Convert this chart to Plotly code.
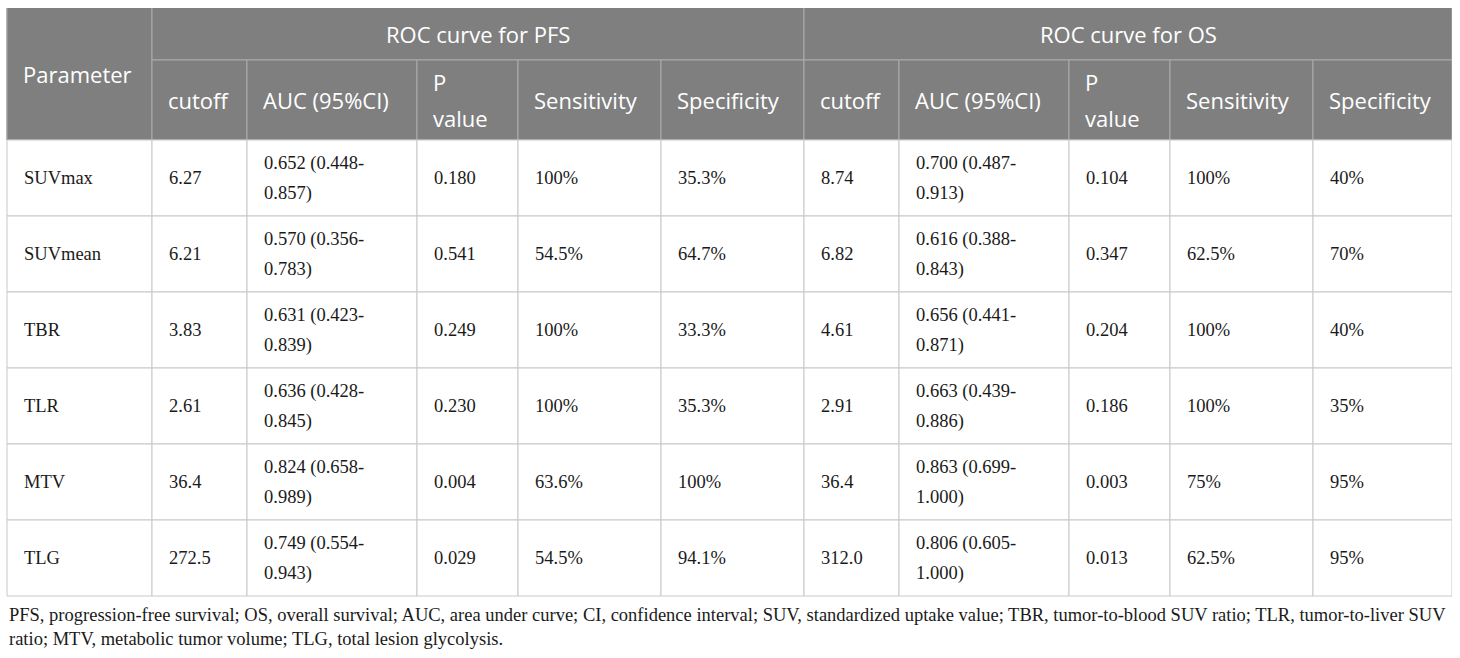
import plotly.graph_objects as go

# ---- data ----
parameters = ["SUVmax", "SUVmean", "TBR", "TLR", "MTV", "TLG"]

pfs_cutoff = ["6.27", "6.21", "3.83", "2.61", "36.4", "272.5"]
pfs_auc = ["0.652", "0.570", "0.631", "0.636", "0.824", "0.749"]
pfs_ci_lo = ["0.448", "0.356", "0.423", "0.428", "0.658", "0.554"]
pfs_ci_hi = ["0.857", "0.783", "0.839", "0.845", "0.989", "0.943"]
pfs_p = ["0.180", "0.541", "0.249", "0.230", "0.004", "0.029"]
pfs_sens = ["100%", "54.5%", "100%", "100%", "63.6%", "54.5%"]
pfs_spec = ["35.3%", "64.7%", "33.3%", "35.3%", "100%", "94.1%"]

os_cutoff = ["8.74", "6.82", "4.61", "2.91", "36.4", "312.0"]
os_auc = ["0.700", "0.616", "0.656", "0.663", "0.863", "0.806"]
os_ci_lo = ["0.487", "0.388", "0.441", "0.439", "0.699", "0.605"]
os_ci_hi = ["0.913", "0.843", "0.871", "0.886", "1.000", "1.000"]
os_p = ["0.104", "0.347", "0.204", "0.186", "0.003", "0.013"]
os_sens = ["100%", "62.5%", "100%", "100%", "75%", "62.5%"]
os_spec = ["40%", "70%", "40%", "35%", "95%", "95%"]

group_titles = ["ROC curve for PFS", "ROC curve for OS"]
sub_headers = [["cutoff"], ["AUC (95%CI)"], ["P", "value"], ["Sensitivity"], ["Specificity"]]
first_header = "Parameter"
footnote = ("PFS, progression-free survival; OS, overall survival; AUC, area under curve; CI, confidence interval; "
            "SUV, standardized uptake value; TBR, tumor-to-blood SUV ratio; TLR, tumor-to-liver SUV"
            "<br>ratio; MTV, metabolic tumor volume; TLG, total lesion glycolysis.")

# ---- layout geometry (page pixel coordinates) ----
PAGE_OFF = 8          # default body margin of the html page
W, H = 1460 - 2 * PAGE_OFF, 658 - PAGE_OFF
X0 = 0                # axis starts a little left of the page offset so x=7 is inside
col_edges = [7, 152, 247, 417, 518, 661, 804, 899, 1069, 1170, 1313, 1452]
hdr_edges = [7, 60, 140]
row_edges = [140, 216, 292, 368, 444, 520, 596]
pad_body = 15
pad_hdr = 14
body_line_gap = 30
hdr_line_gap = 36

HDR_BG = "#7f7f7f"
HDR_LINE = "#acacac"
BODY_LINE = "#c8c8c8"
HDR_FONT = dict(family="Open Sans", size=22, color="white")
BODY_FONT = dict(family="Liberation Serif", size=18.5, color="#1a1a1a")

shapes = []
annotations = []


def rect(x0, y0, x1, y1, fill, line):
    shapes.append(dict(type="rect", xref="x", yref="y", x0=x0, y0=y0, x1=x1, y1=y1,
                       fillcolor=fill, line=dict(color=line, width=1), layer="below"))


def text(x, y, s, font, xanchor="left"):
    annotations.append(dict(x=x, y=y, xref="x", yref="y", text=s, showarrow=False,
                            xanchor=xanchor, yanchor="middle",
                            align="left" if xanchor == "left" else "center", font=font))


def lines(x, yc, parts, font, gap):
    n = len(parts)
    for k, s in enumerate(parts):
        text(x, yc + (k - (n - 1) / 2) * gap, s, font)

# header background
rect(col_edges[0], hdr_edges[0], col_edges[-1], hdr_edges[-1], HDR_BG, HDR_BG)
rect(col_edges[0], hdr_edges[0], col_edges[1], hdr_edges[2], HDR_BG, HDR_LINE)
text(col_edges[0] + pad_hdr, (hdr_edges[0] + hdr_edges[2]) / 2, first_header, HDR_FONT)
for g, title in enumerate(group_titles):
    x0 = col_edges[1 + 5 * g]
    x1 = col_edges[6 + 5 * g]
    rect(x0, hdr_edges[0], x1, hdr_edges[1], HDR_BG, HDR_LINE)
    text((x0 + x1) / 2, (hdr_edges[0] + hdr_edges[1]) / 2, title, HDR_FONT, xanchor="center")
    for k, sh in enumerate(sub_headers):
        c0 = col_edges[1 + 5 * g + k]
        c1 = col_edges[2 + 5 * g + k]
        rect(c0, hdr_edges[1], c1, hdr_edges[2], HDR_BG, HDR_LINE)
        lines(c0 + pad_hdr, (hdr_edges[1] + hdr_edges[2]) / 2, sh, HDR_FONT, hdr_line_gap)

# body
for i, p in enumerate(parameters):
    cells = [[p],
             [pfs_cutoff[i]], [f"{pfs_auc[i]} ({pfs_ci_lo[i]}-", f"{pfs_ci_hi[i]})"], [pfs_p[i]],
             [pfs_sens[i]], [pfs_spec[i]],
             [os_cutoff[i]], [f"{os_auc[i]} ({os_ci_lo[i]}-", f"{os_ci_hi[i]})"], [os_p[i]],
             [os_sens[i]], [os_spec[i]]]
    y0, y1 = row_edges[i], row_edges[i + 1]
    for j, parts in enumerate(cells):
        x0, x1 = col_edges[j], col_edges[j + 1]
        rect(x0, y0, x1, y1, "white", BODY_LINE)
        lines(x0 + pad_body, (y0 + y1) / 2, parts, BODY_FONT, body_line_gap)

# footnote
annotations.append(dict(x=col_edges[0], y=627, xref="x", yref="y", text=footnote, showarrow=False,
                        xanchor="left", yanchor="middle", align="left",
                        font=dict(family="Liberation Serif", size=18.5, color="#1a1a1a")))

fig = go.Figure()
fig.update_layout(
    width=W + PAGE_OFF, height=H,
    margin=dict(l=0, r=0, t=0, b=0),
    paper_bgcolor="white", plot_bgcolor="white",
    xaxis=dict(range=[X0, PAGE_OFF + W], visible=False, fixedrange=True),
    yaxis=dict(range=[PAGE_OFF + H, PAGE_OFF], visible=False, fixedrange=True),
    shapes=shapes, annotations=annotations, showlegend=False,
)
fig.write_html("out.html", config={"displayModeBar": False},
               post_script="document.body.style.margin='0 0 0 0';"
                           "document.body.style.paddingTop='8px';")
